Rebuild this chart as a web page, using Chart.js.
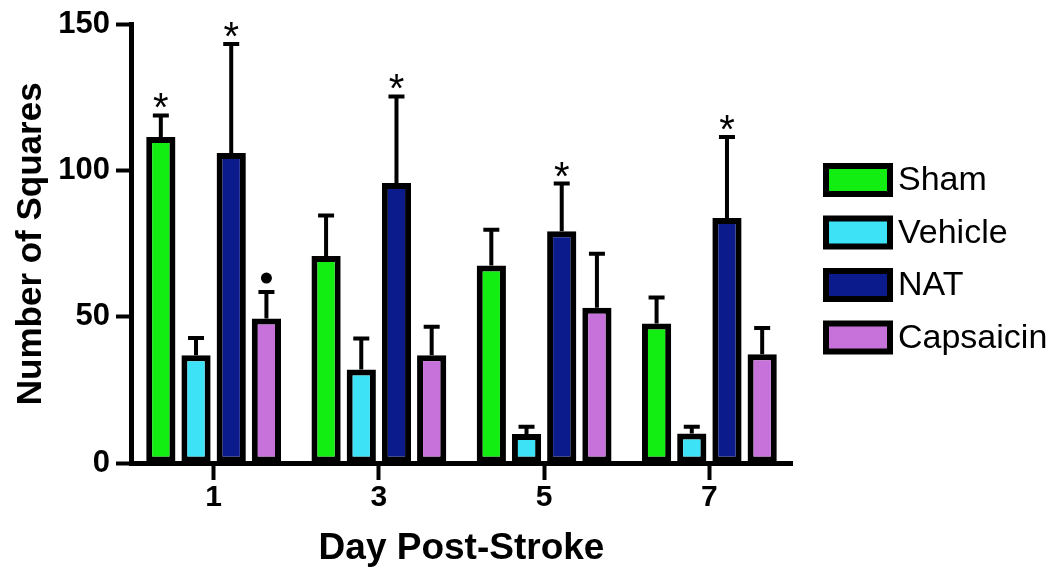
<!DOCTYPE html>
<html>
<head>
<meta charset="utf-8">
<title>Number of Squares</title>
<script src="https://cdn.jsdelivr.net/npm/chart.js@4.4.1/dist/chart.umd.min.js"></script>
<style>
  html, body { margin: 0; padding: 0; background: #fff; }
  #wrap { width: 1060px; height: 568px; }
</style>
</head>
<body>
<div id="wrap"><canvas id="chart"></canvas></div>
<script>
// valores (média e erro para cima)
const days = ['1', '3', '5', '7'];

const shamMean = [111.5, 70.8, 67.6, 47.7];
const shamErr = [7.4, 13.9, 12.2, 8.9];

const vehicleMean = [36.9, 32.0, 9.9, 10.1];
const vehicleErr = [5.9, 10.6, 2.5, 2.3];

const natMean = [106.1, 95.8, 79.3, 83.8];
const natErr = [37.3, 29.6, 16.3, 27.7];

const capsMean = [49.4, 36.9, 53.1, 37.2];
const capsErr = [9.1, 9.7, 18.5, 9.0];

// marcas de significância acima das barras
const shamMarks = ['*', '', '', ''];
const vehicleMarks = ['', '', '', ''];
const natMarks = ['*', '*', '*', '*'];
const capsMarks = ['•', '', '', ''];

const yTicks = [0, 50, 100, 150];

const FONT = "'Liberation Sans', Arial, Helvetica, sans-serif";

function makeDataset(label, data, errors, marks, color) {
  return {
    label,
    data,
    errors,
    marks,
    backgroundColor: color,
    borderColor: '#000',
    borderWidth: 6,
    borderSkipped: false,
    categoryPercentage: 0.852,
    barPercentage: 0.83
  };
}

// barras de erro e asteriscos
const errorBars = {
  id: 'errorBars',
  afterDatasetsDraw(chart) {
    const { ctx } = chart;
    const y = chart.scales.y;
    ctx.save();
    chart.data.datasets.forEach((ds, i) => {
      const meta = chart.getDatasetMeta(i);
      meta.data.forEach((bar, j) => {
        const yVal = y.getPixelForValue(ds.data[j]);
        const yErr = y.getPixelForValue(ds.data[j] + ds.errors[j]);
        ctx.strokeStyle = '#000';
        ctx.lineWidth = 4;
        ctx.beginPath();
        ctx.moveTo(bar.x, yVal);
        ctx.lineTo(bar.x, yErr);
        ctx.moveTo(bar.x - 8, yErr);
        ctx.lineTo(bar.x + 8, yErr);
        ctx.stroke();

        const mark = ds.marks[j];
        if (mark === '*') {
          ctx.fillStyle = '#000';
          ctx.font = '40px ' + FONT;
          ctx.textAlign = 'center';
          ctx.textBaseline = 'alphabetic';
          ctx.fillText('*', bar.x, yErr + 6);
        } else if (mark) {
          ctx.fillStyle = '#000';
          ctx.beginPath();
          ctx.arc(bar.x, yErr - 14, 5.5, 0, Math.PI * 2);
          ctx.fill();
        }
      });
    });
    ctx.restore();
  }
};

// legenda desenhada à direita
const sideLegend = {
  id: 'sideLegend',
  afterDraw(chart) {
    const { ctx } = chart;
    const x = 826, w = 64, h = 28, startY = 180, step = 52.5;
    ctx.save();
    chart.data.datasets.forEach((ds, i) => {
      const cy = startY + i * step;
      ctx.fillStyle = ds.backgroundColor;
      ctx.fillRect(x, cy - h / 2, w, h);
      ctx.strokeStyle = '#000';
      ctx.lineWidth = 6;
      ctx.strokeRect(x, cy - h / 2, w, h);
      ctx.fillStyle = '#000';
      ctx.font = '34px ' + FONT;
      ctx.textAlign = 'left';
      ctx.textBaseline = 'middle';
      ctx.fillText(ds.label, 898, cy + 1);
    });
    ctx.restore();
  }
};

const ctx = document.getElementById('chart').getContext('2d');

new Chart(ctx, {
  type: 'bar',
  data: {
    labels: days,
    datasets: [
      makeDataset('Sham', shamMean, shamErr, shamMarks, '#12ee12'),
      makeDataset('Vehicle', vehicleMean, vehicleErr, vehicleMarks, '#3de2f6'),
      makeDataset('NAT', natMean, natErr, natMarks, '#0b1b8c'),
      makeDataset('Capsaicin', capsMean, capsErr, capsMarks, '#c772da')
    ]
  },
  options: {
    responsive: true,
    maintainAspectRatio: false,
    animation: false,
    layout: { padding: { top: 24, right: 268, bottom: 0, left: 0 } },
    plugins: {
      legend: { display: false },
      tooltip: { enabled: false }
    },
    scales: {
      x: {
        afterFit: (scale) => { scale.height = 105; },
        grid: {
          offset: false,
          drawOnChartArea: false,
          drawTicks: true,
          tickLength: 17,
          tickWidth: 4,
          tickColor: '#000'
        },
        border: { display: true, color: '#000', width: 5 },
        ticks: {
          color: '#000',
          padding: 0,
          font: { family: FONT, size: 30, weight: 'bold' }
        },
        title: {
          display: true,
          text: 'Day Post-Stroke',
          color: '#000',
          padding: { top: 0, bottom: -3 },
          font: { family: FONT, size: 37, weight: 'bold' }
        }
      },
      y: {
        min: 0,
        max: 150,
        afterFit: (scale) => { scale.width = 131; },
        afterBuildTicks: (scale) => { scale.ticks = yTicks.map(v => ({ value: v })); },
        grid: {
          drawOnChartArea: false,
          drawTicks: true,
          tickLength: 15,
          tickWidth: 4,
          tickColor: '#000'
        },
        border: { display: true, color: '#000', width: 5 },
        ticks: {
          color: '#000',
          padding: 6,
          font: { family: FONT, size: 31, weight: 'bold' }
        },
        title: {
          display: true,
          text: 'Number of Squares',
          color: '#000',
          padding: { top: 10, bottom: 0 },
          font: { family: FONT, size: 35, weight: 'bold' }
        }
      }
    }
  },
  plugins: [errorBars, sideLegend]
});
</script>
</body>
</html>
